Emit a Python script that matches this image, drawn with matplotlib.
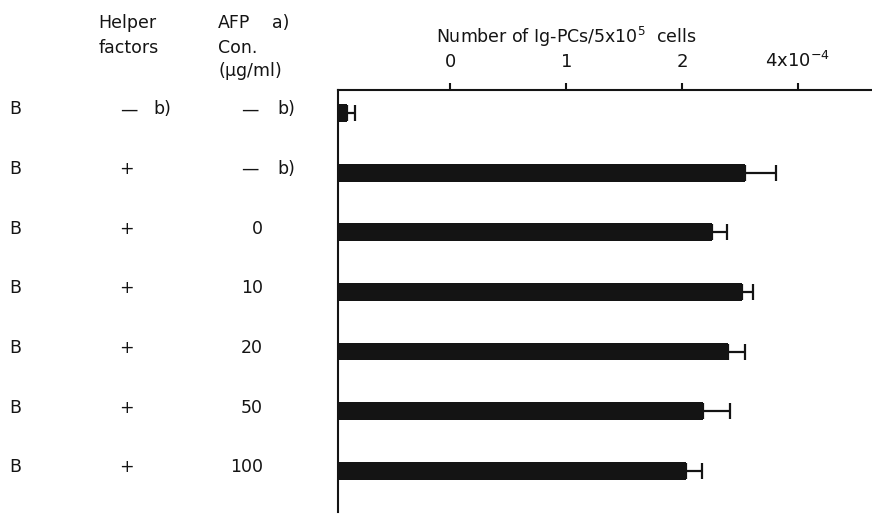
import matplotlib
matplotlib.use("Agg")
import matplotlib.pyplot as plt
import matplotlib.transforms as mtransforms
import numpy as np

plt.rcParams['font.family'] = ['DejaVu Sans']
plt.rcParams['mathtext.default'] = 'regular'

# ---------------- data ----------------
cells = ["B", "B", "B", "B", "B", "B", "B"]
helper = ["—", "+", "+", "+", "+", "+", "+"]
helper_note = ["b)", "", "", "", "", "", ""]
afp = ["—", "—", "0", "10", "20", "50", "100"]
afp_note = ["b)", "b)", "", "", "", "", ""]
# bar ends (in axis tick units) and error bar half-widths
bar_values = [-0.89, 2.54, 2.26, 2.52, 2.40, 2.18, 2.03]
bar_errors = [0.07, 0.27, 0.13, 0.09, 0.14, 0.23, 0.14]
tick_positions = [0, 1, 2, 3]
tick_labels = ["0", "1", "2", "4x10$^{-4}$"]
axis_title = "Number of Ig-PCs/5x10$^{5}$  cells"

# ---------------- figure ----------------
W, H = 872, 515
fig = plt.figure(figsize=(W / 100, H / 100), dpi=100)
ax = fig.add_axes([338 / W, 1 - 512 / H, 1 - 338 / W, (512 - 90) / H])

XMIN, XMAX = -0.97, 3.64
ypos = np.arange(len(bar_values))
vals = np.array(bar_values)
ax.barh(ypos, vals - XMIN, left=XMIN, height=0.30, color="#141414", zorder=2)
ax.errorbar(vals, ypos, xerr=[np.zeros_like(vals), bar_errors], fmt="none",
            ecolor="#141414", elinewidth=1.6, capsize=6, capthick=1.6, zorder=3)

ax.set_xlim(XMIN, XMAX)
ax.set_ylim(len(bar_values) - 1 + 0.69, -0.385)

for s in ["bottom", "right"]:
    ax.spines[s].set_visible(False)
for s in ["top", "left"]:
    ax.spines[s].set_linewidth(1.5)
    ax.spines[s].set_color("#141414")

ax.xaxis.tick_top()
ax.set_xticks(tick_positions)
ax.set_xticklabels(tick_labels)
ax.tick_params(axis="x", direction="out", length=5, width=1.5, pad=9,
               labelsize=13, colors="#141414")
ax.set_yticks([])

fig.text(566 / W, 1 - 37 / H, axis_title, ha="center", va="center",
         fontsize=12.5, color="#141414")

# headers
def ftext(x, y, s, **kw):
    fig.text(x / W, 1 - y / H, s, fontsize=12.5, color="#141414", **kw)

ftext(98, 28, "Helper", ha="left", va="baseline")
ftext(99, 53, "factors", ha="left", va="baseline")
ftext(218, 28, "AFP", ha="left", va="baseline")
ftext(272, 28, "a)", ha="left", va="baseline")
ftext(218, 53, "Con.", ha="left", va="baseline")
ftext(218, 76, "($\\mu$g/ml)", ha="left", va="baseline")

# row labels
trans = mtransforms.blended_transform_factory(fig.transFigure, ax.transData)
for i in range(len(bar_values)):
    y = ypos[i] - 0.06
    kw = dict(transform=trans, va="center", fontsize=12.5, color="#141414")
    ax.text(15 / W, y, cells[i], ha="center", **kw)
    if helper[i] == "+":
        ax.text(126 / W, y, helper[i], ha="center", **kw)
    else:
        ax.text(129 / W, y, helper[i], ha="center", **kw)
    if helper_note[i]:
        ax.text(153 / W, y, helper_note[i], ha="left", **kw)
    if afp[i] == "—":
        ax.text(250 / W, y, afp[i], ha="center", **kw)
    else:
        ax.text(263 / W, y, afp[i], ha="right", **kw)
    if afp_note[i]:
        ax.text(277 / W, y, afp_note[i], ha="left", **kw)

fig.savefig("out.png", dpi=100)
